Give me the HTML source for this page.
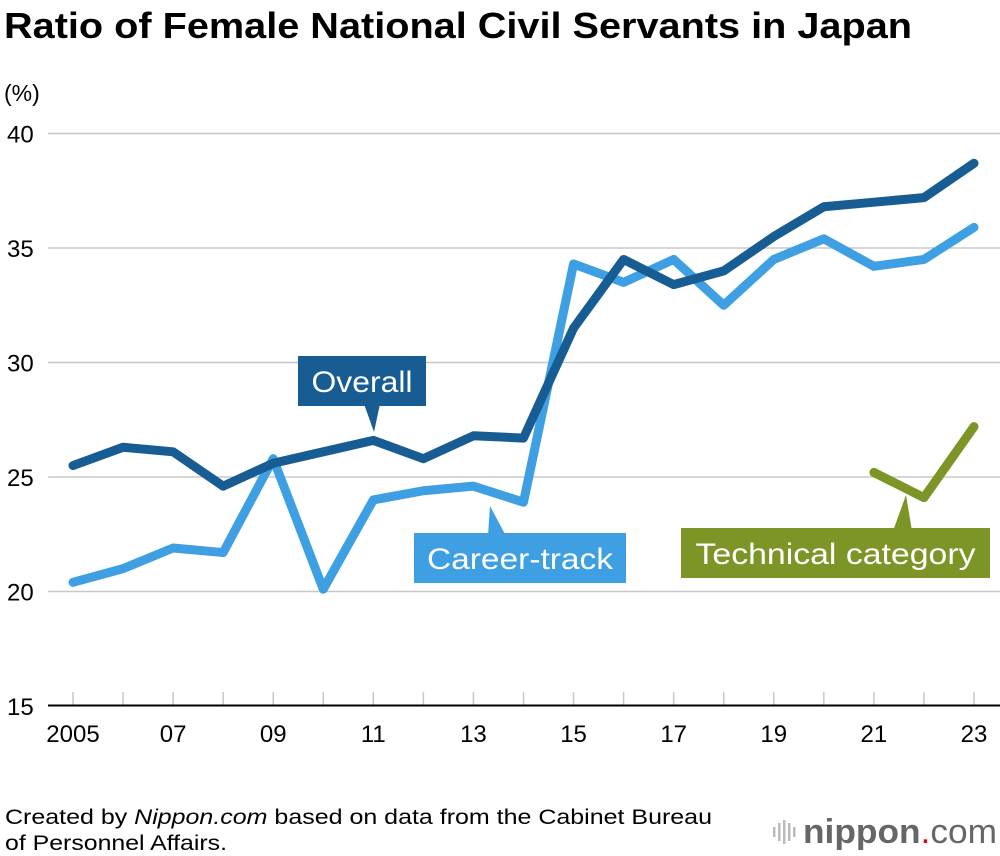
<!DOCTYPE html>
<html><head><meta charset="utf-8"><style>
body{margin:0;background:#fff;font-family:"Liberation Sans",sans-serif;}
#wrap{position:relative;width:1000px;height:856px;overflow:hidden;}
</style></head><body>
<div id="wrap">
<svg id="chart" width="1000" height="856"></svg>
</div>
<script>
const years=["2005","06","07","08","09","10","11","12","13","14","15","16","17","18","19","20","21","22","23"];
const tickLabels=["2005","07","09","11","13","15","17","19","21","23"];
const yTicks=[15,20,25,30,35,40];
const overall=[25.5,26.3,26.1,24.6,25.6,26.1,26.6,25.8,26.8,26.7,31.5,34.5,33.4,34.0,35.5,36.8,37.0,37.2,38.7];
const career=[20.4,21.0,21.9,21.7,25.8,20.1,24.0,24.4,24.6,23.9,34.3,33.5,34.5,32.5,34.5,35.4,34.2,34.5,35.9];
const technical=[null,null,null,null,null,null,null,null,null,null,null,null,null,null,null,null,25.2,24.1,27.2];

const NS="http://www.w3.org/2000/svg";
const svg=document.getElementById('chart');
function x(i){return 73+i*(901/18);}
function y(v){return 706-(v-15)*22.9;}
function mk(tag,attrs,parent){const e=document.createElementNS(NS,tag);for(const k in attrs)e.setAttribute(k,attrs[k]);(parent||svg).appendChild(e);return e;}
function txt(s,attrs){const e=mk('text',attrs);e.textContent=s;return e;}

const t=txt("Ratio of Female National Civil Servants in Japan",{x:4,y:38,'font-size':36,'font-weight':'bold',fill:'#000',textLength:908,lengthAdjust:'spacingAndGlyphs'});


const u=txt("(%)",{x:4,y:101,'font-size':23,fill:'#000'});



yTicks.forEach(v=>{
  if(v>15){const g=mk('line',{x1:48,x2:1000,y1:y(v),y2:y(v),stroke:'#c8c8c8','stroke-width':1.5});
  
  }
  const l=txt(String(v),{x:7,y:y(v)+9,'font-size':24,fill:'#000'});
  
  
});
years.forEach((yr,i)=>{
  const tk=mk('line',{x1:x(i),x2:x(i),y1:692,y2:705,stroke:'#c8c8c8','stroke-width':1.5});
  
  
  if(tickLabels.includes(yr)){
    const l=txt(yr,{x:x(i),y:742,'font-size':24,'text-anchor':'middle',fill:'#000'});
    
    
  }
});
const base=mk('line',{x1:48,x2:1000,y1:705.5,y2:705.5,stroke:'#000','stroke-width':2});



function series(data,color,name){
  let d='';data.forEach((v,i)=>{if(v==null)return;d+=(d?'L':'M')+x(i)+' '+y(v);});
  const p=mk('path',{d:d,fill:'none',stroke:color,'stroke-width':9,'stroke-linejoin':'round','stroke-linecap':'round'});
  
  
}
series(career,'#3e9fe3','career-track-line');
series(overall,'#175c92','overall-line');
series(technical,'#7d9426','technical-category-line');

function label(s,bx,by,bw,bh,color,pts,name,tl){
  const g=mk('g',{});
  
  
  mk('polygon',{points:pts,fill:color},g);
  mk('rect',{x:bx,y:by,width:bw,height:bh,fill:color},g);
  const e=mk('text',{x:bx+bw/2,y:by+bh/2+11,'font-size':30,'text-anchor':'middle',fill:'#fff',textLength:tl,lengthAdjust:'spacingAndGlyphs'},g);
  e.textContent=s;
}
label("Overall",298,356,128,50,'#175c92',"364,404 380,404 374,432",'overall-label',101);
label("Career-track",414,533,212,50,'#3e9fe3',"488,536 506,536 490,506",'career-track-label',186);
label("Technical category",681,528,309,50,'#7d9426',"893,531 912,531 906,495",'technical-category-label',280);

const f1=txt("",{x:5,y:824,'font-size':21,fill:'#000',textLength:707,lengthAdjust:'spacingAndGlyphs'});
f1.innerHTML='Created by <tspan font-style="italic">Nippon.com</tspan> based on data from the Cabinet Bureau';


const f2=txt("of Personnel Affairs.",{x:5,y:850,'font-size':21,fill:'#000',textLength:222,lengthAdjust:'spacingAndGlyphs'});



const lg=mk('g',{});


[0,5,10,15,20].forEach((dx,i)=>{const h=[10,18,24,18,10][i];mk('rect',{x:773+dx,y:832-h/2,width:2.5,height:h,fill:'#bbb'},lg);});
const lt=mk('text',{x:803,y:843,'font-size':34,fill:'#666',textLength:194,lengthAdjust:'spacingAndGlyphs'},lg);
lt.innerHTML='<tspan font-weight="bold">nippon</tspan><tspan fill="#e00">.</tspan><tspan>com</tspan>';
</script>
</body></html>
